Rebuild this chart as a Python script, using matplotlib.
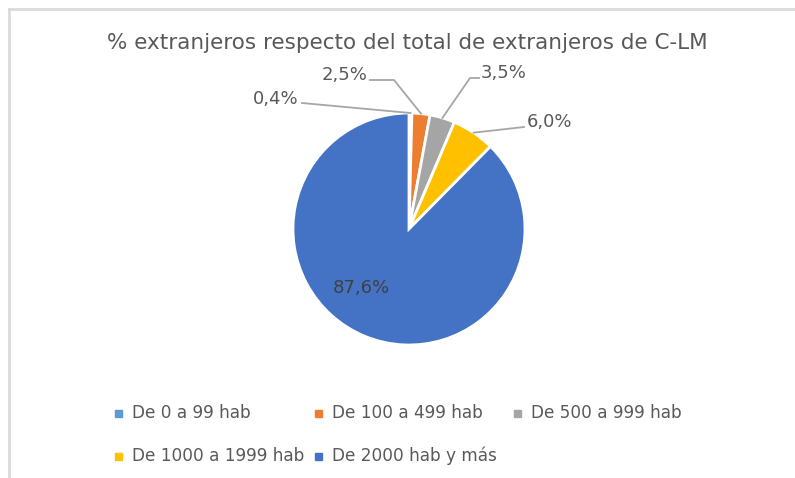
import matplotlib
matplotlib.use('Agg')
import matplotlib.pyplot as plt
import numpy as np
from matplotlib.lines import Line2D
from matplotlib.patches import Rectangle

# ---------------- datos ----------------
categorias = ['De 0 a 99 hab', 'De 100 a 499 hab', 'De 500 a 999 hab',
              'De 1000 a 1999 hab', 'De 2000 hab y más']
porcentajes = [0.4, 2.5, 3.5, 6.0, 87.6]
etiquetas = ['0,4%', '2,5%', '3,5%', '6,0%', '87,6%']
colores = ['#5B9BD5', '#ED7D31', '#A5A5A5', '#FFC000', '#4472C4']
titulo = '% extranjeros respecto del total de extranjeros de C-LM'

# posiciones de las etiquetas (pixeles) y lineas guia
pos_texto = [(276, 99), (345, 75), (504, 73), (549, 122), (361, 288)]
inicio_linea = [(302, 103), (370, 80), (479, 78), (524, 127), None]
codo_linea = [None, (394, 80), (470, 78), None, None]

W, H = 795, 478
fig = plt.figure(figsize=(W / 100, H / 100), dpi=100)
gris_texto = '#595959'

# borde del area del grafico
borde = '#dadada'
fig.add_artist(Line2D([9 / W, 1], [1 - 9 / H, 1 - 9 / H], color=borde, lw=2,
                      transform=fig.transFigure))
fig.add_artist(Line2D([9 / W, 9 / W], [0, 1 - 9 / H], color=borde, lw=2,
                      transform=fig.transFigure))

# ---------------- tarta ----------------
cx, cy, r = 409, 229, 116
ax = fig.add_axes([(cx - r) / W, (H - cy - r) / H, 2 * r / W, 2 * r / H])
wedges, _ = ax.pie(porcentajes, colors=colores, startangle=90, counterclock=False,
                   wedgeprops=dict(edgecolor='white', linewidth=2))
ax.set_xlim(-1, 1)
ax.set_ylim(-1, 1)
ax.set_aspect('equal')
ax.axis('off')


def d(p):
    # pixel -> coordenadas de datos
    return (p[0] - cx) / r, (cy - p[1]) / r


for i, w in enumerate(wedges):
    tx, ty = d(pos_texto[i])
    color = '#404040' if i == 4 else gris_texto
    ax.text(tx, ty, etiquetas[i], ha='center', va='center', fontsize=13, color=color)
    if inicio_linea[i] is None:
        continue
    ang = np.deg2rad((w.theta1 + w.theta2) / 2)
    pts = [d(inicio_linea[i])]
    if codo_linea[i] is not None:
        pts.append(d(codo_linea[i]))
    pts.append((np.cos(ang) * w.r, np.sin(ang) * w.r))
    xs, ys = zip(*pts)
    ax.plot(xs, ys, color='#a6a6a6', lw=1.3, clip_on=False)

# ---------------- titulo ----------------
fig.text(407 / W, 1 - 43 / H, titulo, ha='center', va='center', fontsize=15.5, color=gris_texto)

# ---------------- leyenda ----------------
cols_x = [118, 318, 517]
filas_y = [413, 456]
for i, (cat, col) in enumerate(zip(categorias, colores)):
    fila, c = divmod(i, 3)
    x, y = cols_x[c], filas_y[fila]
    fig.add_artist(Rectangle(((x - 3.5) / W, 1 - (y + 3.5) / H), 7 / W, 7 / H,
                             color=col, transform=fig.transFigure))
    fig.text((x + 14) / W, 1 - y / H, cat, ha='left', va='center', fontsize=12.2,
             color=gris_texto)

fig.savefig('out.png', dpi=100)
